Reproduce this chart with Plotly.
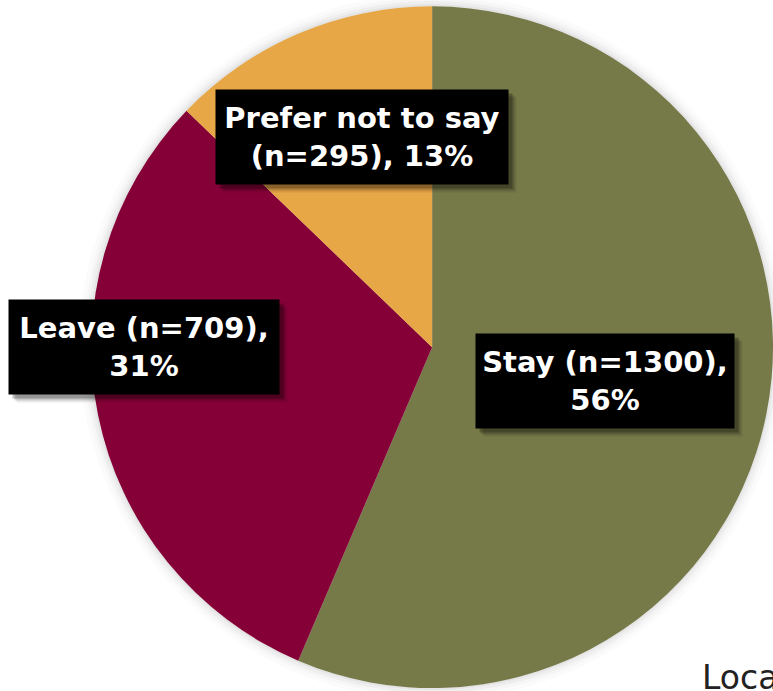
import plotly.graph_objects as go

W, H = 773, 691

categories = ["Stay", "Leave", "Prefer not to say"]
counts = [1300, 709, 295]
colors = ["#767948", "#860038", "#E8A747"]

total = sum(counts)
pcts = [round(100 * c / total) for c in counts]

label_texts = [
    f"Stay (n={counts[0]}),<br>{pcts[0]}%",
    f"Leave (n={counts[1]}),<br>{pcts[1]}%",
    f"Prefer not to say<br>(n={counts[2]}), {pcts[2]}%",
]
# box centers (px) and sizes (px)
box_pos = [(605, 381, 258, 94), (144, 347, 270, 94), (362, 137, 292, 94)]

fig = go.Figure()
fig.add_trace(go.Pie(
    labels=categories, values=counts, sort=False, direction="clockwise",
    rotation=0, marker=dict(colors=colors, line=dict(width=0)),
    textinfo="none", hoverinfo="label+value+percent", showlegend=False,
    domain=dict(x=[0.118, 1.0], y=[0.0, 0.995]),
))

def px(x): return x / W
def py(y): return 1 - y / H

# soft shadow around the pie
cx, cy, r = 432, 347, 341
shapes = []
for d, a in [(12, 0.015), (8, 0.02), (5, 0.03), (2, 0.04)]:
    shapes.append(dict(type="circle", xref="paper", yref="paper", layer="below",
                       x0=px(cx - r - d), x1=px(cx + r + d),
                       y0=py(cy + r + d), y1=py(cy - r - d),
                       fillcolor=f"rgba(0,0,0,{a})", line=dict(width=0)))

annotations = []
for (bx, by, bw, bh), txt in zip(box_pos, label_texts):
    for off, op in [(8, 0.08), (6, 0.15), (4, 0.25)]:
        annotations.append(dict(x=px(bx), y=py(by), xref="paper", yref="paper",
                                text="", showarrow=False, width=bw, height=bh,
                                bgcolor=f"rgba(0,0,0,{op})", borderpad=0,
                                xshift=off, yshift=-off, xanchor="center", yanchor="middle"))
    annotations.append(dict(x=px(bx), y=py(by), xref="paper", yref="paper",
                            text=txt, showarrow=False, width=bw, height=bh,
                            bgcolor="black", borderpad=0, align="center", valign="middle",
                            xanchor="center", yanchor="middle",
                            font=dict(family="DejaVu Sans", size=29, color="white", weight="bold")))

annotations.append(dict(x=px(700), y=py(699), xref="paper", yref="paper", text="Loca",
                        showarrow=False, xanchor="left", yanchor="bottom",
                        font=dict(family="DejaVu Sans", size=33, color="#222222")))

fig.update_layout(width=W, height=H, margin=dict(l=0, r=0, t=0, b=0),
                  paper_bgcolor="white", plot_bgcolor="white",
                  shapes=shapes, annotations=annotations)

fig.write_html("out.html")
